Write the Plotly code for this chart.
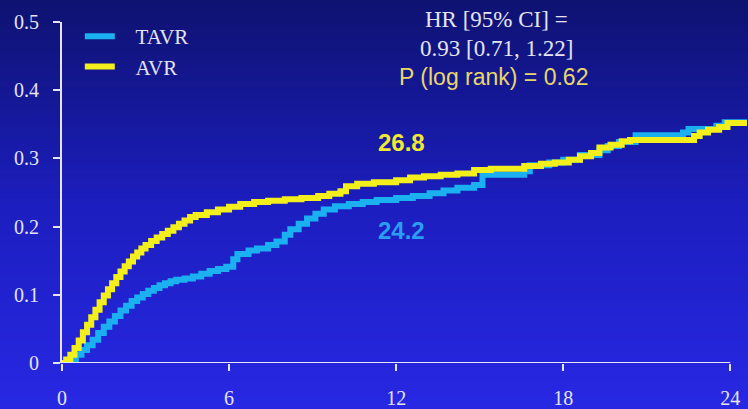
import plotly.graph_objects as go

# Cumulative incidence (Kaplan-Meier style step curves), time in months
months_tavr = [0, 0.3, 0.5, 0.7, 0.9, 1.1, 1.3, 1.5, 1.7, 1.9, 2.1, 2.3, 2.5, 2.7, 2.9, 3.1,
               3.3, 3.5, 3.7, 3.9, 4.1, 4.4, 4.7, 5.0, 5.3, 5.6, 5.9, 6.15, 6.3, 6.7, 7.0,
               7.4, 7.7, 8.0, 8.2, 8.5, 8.8, 9.1, 9.4, 9.8, 10.3, 10.8, 11.3, 12.0, 12.6,
               13.2, 13.7, 14.2, 14.8, 15.1, 16.6, 16.8, 17.5, 18.0, 18.6, 19.3, 19.6,
               20.0, 20.6, 22.3, 22.5, 23.5, 23.8, 24.6]
risk_tavr = [0, 0.005, 0.012, 0.019, 0.026, 0.034, 0.044, 0.053, 0.061, 0.069, 0.077, 0.084,
             0.091, 0.096, 0.101, 0.106, 0.110, 0.114, 0.117, 0.120, 0.122, 0.124, 0.127,
             0.131, 0.135, 0.138, 0.141, 0.152, 0.160, 0.165, 0.168, 0.173, 0.178, 0.188,
             0.196, 0.204, 0.212, 0.219, 0.225, 0.230, 0.233, 0.236, 0.239, 0.242, 0.245,
             0.249, 0.253, 0.257, 0.261, 0.276, 0.281, 0.290, 0.294, 0.298, 0.305, 0.312,
             0.318, 0.324, 0.334, 0.338, 0.343, 0.348, 0.353, 0.353]

months_avr = [0, 0.15, 0.3, 0.45, 0.6, 0.75, 0.9, 1.05, 1.2, 1.35, 1.5, 1.65, 1.8, 1.95, 2.1,
              2.25, 2.4, 2.55, 2.7, 2.85, 3.0, 3.2, 3.4, 3.6, 3.8, 4.0, 4.2, 4.4, 4.6, 4.8,
              5.2, 5.6, 6.0, 6.4, 6.9, 7.4, 8.0, 8.6, 9.2, 9.6, 10.0, 10.2, 10.6, 11.2,
              12.0, 12.5, 13.0, 13.6, 14.2, 14.8, 15.4, 16.0, 16.6, 17.2, 17.7, 18.2,
              18.6, 19.0, 19.3, 19.7, 20.1, 20.4, 22.7, 22.9, 23.2, 23.6, 23.9, 24.6]
risk_avr = [0, 0.005, 0.012, 0.022, 0.033, 0.045, 0.056, 0.067, 0.078, 0.089, 0.099, 0.108,
            0.117, 0.126, 0.134, 0.142, 0.149, 0.156, 0.162, 0.168, 0.173, 0.179, 0.184,
            0.189, 0.194, 0.199, 0.204, 0.209, 0.214, 0.217, 0.221, 0.225, 0.229, 0.233,
            0.236, 0.238, 0.240, 0.242, 0.245, 0.248, 0.252, 0.259, 0.263, 0.265, 0.268,
            0.272, 0.274, 0.276, 0.278, 0.283, 0.285, 0.285, 0.289, 0.292, 0.294, 0.298,
            0.303, 0.308, 0.316, 0.320, 0.325, 0.327, 0.333, 0.338, 0.342, 0.346, 0.352,
            0.352]

series_names = ["TAVR", "AVR"]
series_colors = ["#1bb0ef", "#f2ef1c"]
label_colors = ["#2a9ef2", "#f0e832"]
label_month = 12

x_ticks = [0, 6, 12, 18, 24]
x_tick_text = ["0", "6", "12", "18", "24"]
y_ticks = [0, 0.1, 0.2, 0.3, 0.4, 0.5]
y_tick_text = ["0", "0.1", "0.2", "0.3", "0.4", "0.5"]

hr_lines = ["HR [95% CI] =", "0.93 [0.71, 1.22]"]
p_line = "P (log rank) = 0.62"

axis_color = "#e4e4f2"
serif = "Liberation Serif, Times New Roman, serif"
sans = "Liberation Sans, Arial, sans-serif"

W, H = 748, 409
M_L, M_R, M_T, M_B = 62, 1, 22, 46
PLOT_H = H - M_T - M_B

fig = go.Figure()

for name, xs, ys, col in zip(series_names, [months_tavr, months_avr],
                             [risk_tavr, risk_avr], series_colors):
    fig.add_trace(go.Scatter(
        x=xs, y=ys, name="\u00a0\u00a0\u00a0" + name, mode="lines",
        legendgroup=name,
        line=dict(color=col, width=6, shape="hv"),
        hoverinfo="skip",
    ))

# 12-month event rates
for xs, ys, lc, dy in zip([months_tavr, months_avr], [risk_tavr, risk_avr],
                          label_colors, [-0.048, 0.055]):
    v = ys[xs.index(label_month)]
    fig.add_annotation(
        x=label_month + 0.2, y=v + dy, xref="x", yref="y",
        text=f"<b>{v * 100:.1f}</b>", showarrow=False,
        font=dict(family=sans, size=24, color=lc),
    )


def paper_y(py):
    return (H - M_B - py) / PLOT_H


# Hazard ratio / log-rank block
for t, py in zip(hr_lines, [19, 48]):
    fig.add_annotation(
        x=15.62, y=paper_y(py), xref="x", yref="paper", yanchor="middle",
        text=t, showarrow=False,
        font=dict(family=serif, size=23, color=axis_color),
    )
fig.add_annotation(
    x=15.5, y=paper_y(77), xref="x", yref="paper", yanchor="middle",
    text=p_line, showarrow=False,
    font=dict(family=sans, size=23, color="#e8d66a"),
)

# Horizontal axis line spans only 0..24
fig.add_shape(type="line", xref="x", yref="y", x0=0, x1=24, y0=0, y1=0,
              line=dict(color=axis_color, width=2), layer="above")

# Vertical gradient background, banded from top to bottom of the page
stops = [(0.0, (14, 18, 112)), (0.5, (28, 30, 190)), (1.0, (40, 40, 228))]
n_bands = 70
for i in range(n_bands):
    f = (i + 0.5) / n_bands
    for (f0, c0), (f1, c1) in zip(stops[:-1], stops[1:]):
        if f0 <= f <= f1:
            g = (f - f0) / (f1 - f0)
            c = tuple(round(c0[k] + (c1[k] - c0[k]) * g) for k in range(3))
            break
    py0 = i * H / n_bands
    py1 = (i + 1) * H / n_bands + 1
    fig.add_shape(type="rect", xref="paper", yref="paper",
                  x0=-0.2, x1=1.2, y0=paper_y(py1), y1=paper_y(py0),
                  fillcolor="rgb(%d,%d,%d)" % c, line=dict(width=0), layer="below")

fig.update_layout(
    width=W, height=H,
    margin=dict(l=M_L, r=M_R, t=M_T, b=M_B),
    paper_bgcolor="rgb(28,30,190)",
    plot_bgcolor="rgba(0,0,0,0)",
    showlegend=True,
    legend=dict(x=0.026, y=paper_y(16), xanchor="left", yanchor="top",
                bgcolor="rgba(0,0,0,0)", borderwidth=0,
                font=dict(family=serif, size=21, color=axis_color),
                itemwidth=30, tracegroupgap=10, traceorder="normal"),
    xaxis=dict(range=[0, 24.6], showgrid=False, zeroline=False, showline=False,
               tickmode="array", tickvals=x_ticks, ticktext=x_tick_text,
               ticks="outside", ticklen=7, tickwidth=2, tickcolor=axis_color,
               ticklabelstandoff=10,
               tickfont=dict(family=serif, size=20, color=axis_color)),
    yaxis=dict(range=[0, 0.5], showgrid=False, zeroline=False, showline=True,
               linecolor=axis_color, linewidth=2,
               tickmode="array", tickvals=y_ticks, ticktext=y_tick_text,
               ticks="outside", ticklen=7, tickwidth=2, tickcolor=axis_color,
               ticklabelstandoff=10,
               tickfont=dict(family=serif, size=20, color=axis_color)),
)

fig.write_html("out.html")
